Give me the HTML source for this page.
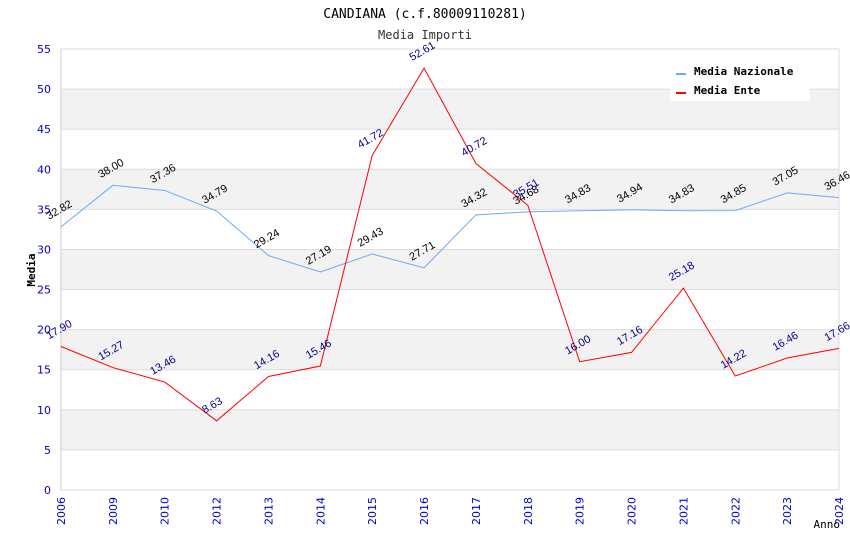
<!DOCTYPE html>
<html><head><meta charset="utf-8"><style>
body{margin:0;background:#fff;}
svg{display:block;font-family:"DejaVu Sans","Liberation Sans",sans-serif;}
.mono{font-family:"DejaVu Sans Mono","Liberation Mono",monospace;}
</style></head><body>
<svg id="chart" width="850" height="550">
<text class="mono" x="425" y="18" text-anchor="middle" font-size="13" fill="#000">CANDIANA (c.f.80009110281)</text>
<text class="mono" x="425" y="39" text-anchor="middle" font-size="12" fill="#333">Media Importi</text>
<text class="mono" x="35" y="270" text-anchor="middle" font-size="11" font-weight="bold" transform="rotate(-90 35 270)">Media</text>
<text class="mono" x="840" y="528" text-anchor="end" font-size="11">Anno</text>
<g id="bands"></g><g id="grid"></g><g id="ticks"></g><g id="series"></g><g id="labels"></g>
<g>
<rect x="670" y="57" width="140" height="44" fill="#fff"/>
<line x1="676" y1="74" x2="686" y2="74" stroke="#6aaaf0" stroke-width="2"/>
<text class="mono" x="694" y="75" font-size="11" font-weight="bold">Media Nazionale</text>
<line x1="676" y1="93" x2="686" y2="93" stroke="#f00" stroke-width="2"/>
<text class="mono" x="694" y="94" font-size="11" font-weight="bold">Media Ente</text>
</g>
</svg>
<script>
const categories=["2006","2009","2010","2012","2013","2014","2015","2016","2017","2018","2019","2020","2021","2022","2023","2024"];
const nazionale=[32.82,38.00,37.36,34.79,29.24,27.19,29.43,27.71,34.32,34.68,34.83,34.94,34.83,34.85,37.05,36.46];
const ente=[17.90,15.27,13.46,8.63,14.16,15.46,41.72,52.61,40.72,35.51,16.00,17.16,25.18,14.22,16.46,17.66];
const yTicks=[0,5,10,15,20,25,30,35,40,45,50,55];
const NS="http://www.w3.org/2000/svg";
const L=61,R=839,T=49,B=490,YMAX=55;
const x=i=>L+i*(R-L)/(categories.length-1);
const y=v=>B-v*(B-T)/YMAX;
function mk(tag,attrs,parent){const e=document.createElementNS(NS,tag);for(const k in attrs)e.setAttribute(k,attrs[k]);document.getElementById(parent).appendChild(e);return e;}
for(let k=0;k<yTicks.length-1;k++){
  if(k%2===1){const b=mk('rect',{x:L,y:y(yTicks[k+1]),width:R-L,height:y(yTicks[k])-y(yTicks[k+1]),fill:'#f2f2f2'},'bands');
  
  }
}
yTicks.forEach(t=>{
  const g=mk('line',{x1:L,x2:R,y1:y(t),y2:y(t),stroke:'#ddd','stroke-width':1},'grid');
  
  
  const tx=mk('text',{x:L-10,y:y(t)+4,'text-anchor':'end','font-size':11,fill:'#00c'},'ticks');
  tx.textContent=t;
  
  
});
const ax=mk('line',{x1:L,x2:L,y1:T,y2:B,stroke:'#ccc'},'grid');


const ax2=mk('line',{x1:R,x2:R,y1:T,y2:B,stroke:'#ddd'},'grid');


categories.forEach((c,i)=>{
  const tx=mk('text',{x:x(i)+4,y:497,'text-anchor':'end','font-size':11,fill:'#00c',transform:`rotate(-90 ${x(i)+4} 497)`},'ticks');
  tx.textContent=c;
  
  
});
function series(vals,color,lblColor,name){
  const p=mk('polyline',{points:vals.map((v,i)=>x(i)+','+y(v)).join(' '),fill:'none',stroke:color,'stroke-width':1},'series');
  
  
  vals.forEach((v,i)=>{
    const px=x(i)-12,py=y(v)-7;
    const t=mk('text',{x:px,y:py,'font-size':11,'font-family':'Liberation Sans, sans-serif',fill:lblColor,transform:`rotate(-30 ${px} ${py})`},'labels');
    t.textContent=v.toFixed(2);
    
    
  });
}
series(nazionale,'#6aaaf0','#000','nazionale');
series(ente,'#f00','#00008b','ente');
</script>
</body></html>
